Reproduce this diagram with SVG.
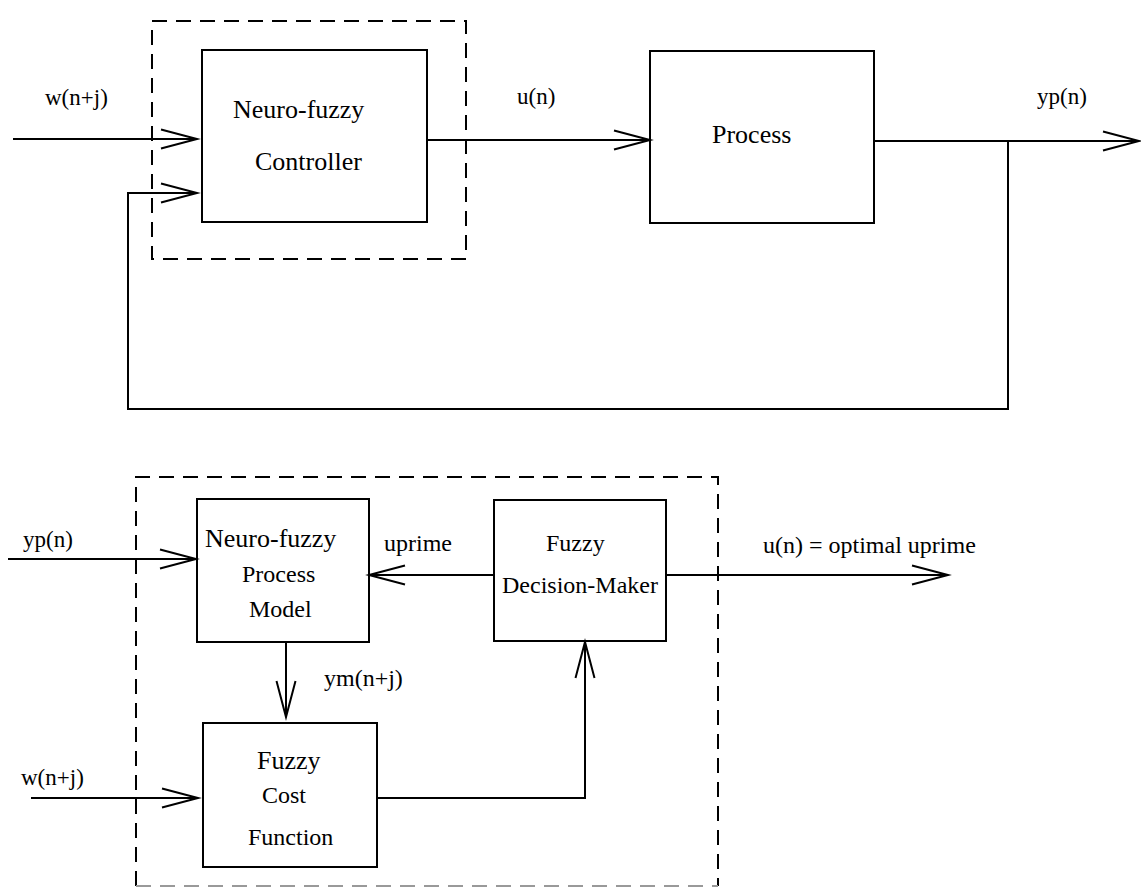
<svg xmlns="http://www.w3.org/2000/svg" width="1141" height="887" viewBox="0 0 1141 887">
  <style>
    .box { fill: none; stroke: #000; stroke-width: 2; }
    .dash { fill: none; stroke: #000; stroke-width: 2; stroke-dasharray: 15 9; }
    .wire { fill: none; stroke: #000; stroke-width: 2; }
    .arrow { marker-end: url(#open); }
    text { font-family: "Liberation Serif", "Times New Roman", serif; fill: #000; }
    .lab { font-size: 23px; }
    .big { font-size: 26px; }
    .mid { font-size: 24px; }
  </style>
  <defs>
    <marker id="open" markerUnits="userSpaceOnUse" viewBox="0 0 40 22" markerWidth="40" markerHeight="22" refX="37" refY="11" orient="auto" overflow="visible">
      <path d="M1,1.5 L37,11 L1,20.5" fill="none" stroke="#000" stroke-width="2"/>
    </marker>
  </defs>
  <rect width="1141" height="887" fill="#fff"/>

  <!-- upper loop: controller and plant -->
  <rect id="controller-frame" class="dash" x="152" y="21" width="314" height="238"/>
  <g id="controller">
    <rect class="box" x="202" y="50" width="225" height="172"/>
    <text class="big" x="233" y="118">Neuro-fuzzy</text>
    <text class="big" x="255" y="170">Controller</text>
  </g>
  <g id="process">
    <rect class="box" x="650" y="51" width="224" height="172"/>
    <text class="big" x="712" y="143">Process</text>
  </g>

  <!-- lower block: predictive optimiser -->
  <path id="optimiser-frame" class="dash" d="M136,886 V477 H718 V886"/>
  <line class="dash" x1="136" y1="886" x2="718" y2="886" style="stroke:#999"/>
  <g id="process-model">
    <rect class="box" x="197" y="499" width="172" height="143"/>
    <text style="font-size:26px" x="205" y="547">Neuro-fuzzy</text>
    <text class="mid" x="242" y="582">Process</text>
    <text class="mid" x="249" y="617">Model</text>
  </g>
  <g id="decision-maker">
    <rect class="box" x="494" y="500" width="172" height="141"/>
    <text class="mid" x="546" y="551">Fuzzy</text>
    <text class="mid" x="502" y="593">Decision-Maker</text>
  </g>
  <g id="cost-function">
    <rect class="box" x="203" y="723" width="174" height="144"/>
    <text style="font-size:26px" x="257" y="769">Fuzzy</text>
    <text class="mid" x="262" y="803">Cost</text>
    <text class="mid" x="248" y="845">Function</text>
  </g>

  <g id="connectors">
    <!-- upper loop -->
    <line class="wire arrow" x1="13" y1="139" x2="197" y2="139"/>
    <line class="wire arrow" x1="427" y1="140" x2="650" y2="140"/>
    <line class="wire arrow" x1="874" y1="141" x2="1139" y2="141"/>
    <path class="wire arrow" d="M1008,141 V409 H128 V193 H197"/>
    <!-- lower block -->
    <line class="wire arrow" x1="8" y1="559" x2="196" y2="559"/>
    <line class="wire arrow" x1="494" y1="575" x2="369" y2="575"/>
    <line class="wire arrow" x1="666" y1="575" x2="948" y2="575"/>
    <line class="wire arrow" x1="286" y1="642" x2="286" y2="717"/>
    <line class="wire arrow" x1="31" y1="798" x2="198" y2="798"/>
    <path class="wire arrow" d="M377,798 H585 V642"/>
  </g>

  <g id="labels">
    <text class="lab" x="45" y="105">w(n+j)</text>
    <text class="lab" x="517" y="104">u(n)</text>
    <text class="lab" x="1037" y="104">yp(n)</text>
    <text class="lab" x="23" y="547">yp(n)</text>
    <text class="mid" x="384" y="551">uprime</text>
    <text class="mid" x="763" y="553">u(n) = optimal uprime</text>
    <text class="mid" x="324" y="686">ym(n+j)</text>
    <text class="lab" x="21" y="785">w(n+j)</text>
  </g>
</svg>
